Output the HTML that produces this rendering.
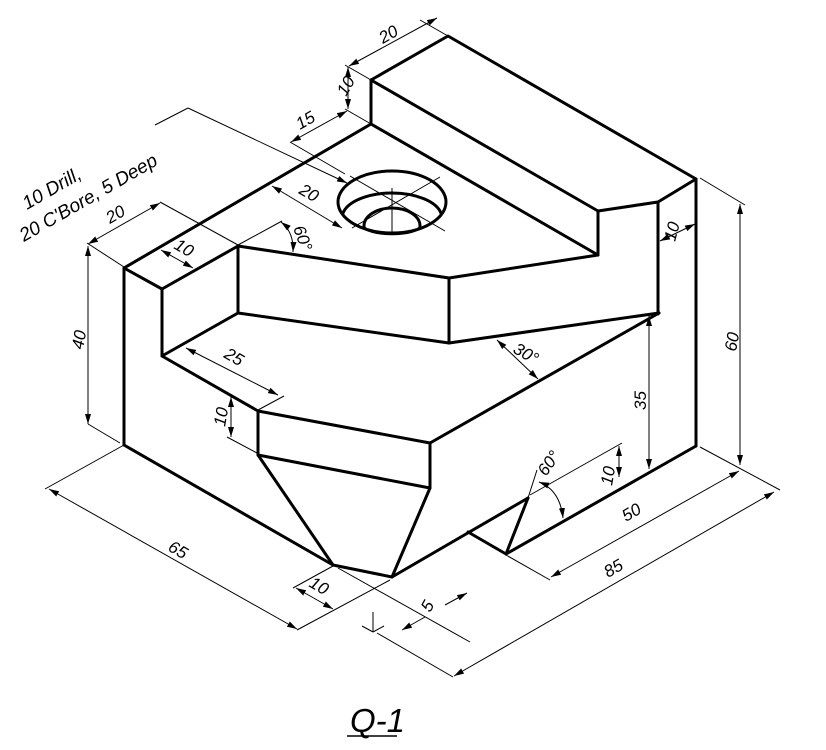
<!DOCTYPE html>
<html><head><meta charset="utf-8"><style>
html,body{margin:0;padding:0;background:#fff;}
svg{display:block}
text{font-family:"Liberation Sans",sans-serif;font-style:italic;fill:#000}
</style></head><body>
<svg width="826" height="750" viewBox="0 0 826 750" xmlns="http://www.w3.org/2000/svg">
<defs>
<marker id="a" viewBox="0 0 10 6" refX="10" refY="3" markerWidth="10" markerHeight="6" orient="auto-start-reverse" markerUnits="userSpaceOnUse"><path d="M0,0 L10,3 L0,6 z" fill="#000"/></marker>
</defs>
<g stroke="#000" stroke-width="3" fill="none" stroke-linejoin="round" stroke-linecap="round">
<polyline points="371,124 371,80 448,36 696,179 658,202 598,211 371,80"/>
<line x1="598" y1="211" x2="598" y2="255"/>
<line x1="371" y1="124" x2="598" y2="255"/>
<line x1="598" y1="255" x2="449" y2="278"/>
<line x1="449" y1="278" x2="449" y2="343"/>
<line x1="449" y1="343" x2="659" y2="313"/>
<line x1="658" y1="202" x2="658" y2="314"/>
<line x1="696" y1="179" x2="696" y2="446"/>
<polyline points="371,124 124,268 162,289 238,246 449,278"/>
<line x1="124" y1="268" x2="124" y2="445"/>
<line x1="162" y1="289" x2="162" y2="356"/>
<line x1="238" y1="246" x2="238" y2="313"/>
<line x1="238" y1="313" x2="449" y2="343"/>
<polyline points="238,313 162,356 258,411 430,443 659,313"/>
<line x1="258" y1="411" x2="258" y2="455"/>
<line x1="258" y1="455" x2="430" y2="488"/>
<line x1="430" y1="443" x2="430" y2="488"/>
<polyline points="124,445 333,565 392,577 430,488"/>
<line x1="258" y1="455" x2="333" y2="565"/>
<line x1="392" y1="577" x2="528" y2="498"/>
<polyline points="468,532 506,554 528,498"/>
<line x1="506" y1="554" x2="696" y2="446"/>
<ellipse cx="392" cy="202" rx="54" ry="31"/>
<path d="M343,213 A50,25 0 0 1 441,213"/>
<path d="M364,226 A28,18 0 0 1 420,226"/>
<path d="M364,226 A28,8 0 0 0 420,226" stroke-width="2.5"/>
</g>
<g stroke="#000" stroke-width="1" fill="none">
<line x1="350" y1="176" x2="445" y2="231"/>
<line x1="352" y1="228" x2="440" y2="177"/>
<line x1="392" y1="188" x2="392" y2="232"/>
<line x1="371" y1="80" x2="345" y2="65"/>
<line x1="448" y1="36" x2="420" y2="20"/>
<line x1="371" y1="124" x2="345" y2="109"/>
<line x1="290" y1="142" x2="345" y2="174"/>
<line x1="155" y1="125" x2="188" y2="108"/>
<line x1="160" y1="202" x2="238" y2="245"/>
<line x1="87" y1="243" x2="124" y2="267"/>
<line x1="238" y1="245" x2="282" y2="221"/>
<line x1="88" y1="424" x2="120" y2="443"/>
<line x1="258" y1="410" x2="284" y2="396"/>
<line x1="227" y1="437" x2="257" y2="453"/>
<line x1="45" y1="489" x2="124" y2="445"/>
<line x1="297" y1="630" x2="390" y2="580"/>
<line x1="293" y1="588" x2="333" y2="566"/>
<line x1="338" y1="568" x2="470" y2="642"/>
<line x1="377" y1="633" x2="453" y2="677"/>
<line x1="700" y1="447" x2="780" y2="490"/>
<line x1="506" y1="555" x2="550" y2="580"/>
<line x1="700" y1="178" x2="745" y2="205"/>
<line x1="530" y1="495" x2="622" y2="443"/>
<line x1="528" y1="498" x2="537" y2="470"/>
<line x1="373" y1="612" x2="373" y2="632"/>
<line x1="362" y1="626" x2="373" y2="632"/>
<line x1="384" y1="626" x2="373" y2="632"/>
<g marker-start="url(#a)" marker-end="url(#a)">
<line x1="349" y1="66" x2="437" y2="18"/>
<line x1="348" y1="67" x2="348" y2="109"/>
<line x1="291" y1="142" x2="347" y2="111"/>
<line x1="272" y1="186" x2="342" y2="228"/>
<line x1="88" y1="244" x2="160" y2="203"/>
<line x1="161" y1="250" x2="193" y2="268"/>
<line x1="88" y1="246" x2="88" y2="424"/>
<line x1="186" y1="348" x2="278" y2="395"/>
<line x1="231" y1="397" x2="231" y2="437"/>
<line x1="49" y1="489" x2="297" y2="629"/>
<line x1="296" y1="588" x2="333" y2="609"/>
<line x1="454" y1="676" x2="774" y2="492"/>
<line x1="551" y1="577" x2="739" y2="471"/>
<line x1="649" y1="316" x2="649" y2="469"/>
<line x1="740" y1="204" x2="740" y2="465"/>
<line x1="660" y1="241" x2="695" y2="224"/>
<line x1="619" y1="446" x2="619" y2="477"/>
<line x1="497" y1="340" x2="538" y2="379"/>
</g>
<polyline points="188,108 347,183" marker-end="url(#a)"/>
<line x1="402" y1="630" x2="425" y2="617" marker-start="url(#a)"/>
<line x1="467" y1="593" x2="445" y2="605" marker-start="url(#a)"/>
<path d="M281,222 Q294,232 293,252" marker-start="url(#a)" marker-end="url(#a)"/>
<path d="M539,482 Q560,490 563,518" marker-start="url(#a)" marker-end="url(#a)"/>
</g>
<g font-size="17">
<text transform="translate(383,44) rotate(-30)">20</text>
<text transform="translate(346,97) rotate(-60)">10</text>
<text transform="translate(300,130) rotate(-30)">15</text>
<text transform="translate(298,193) rotate(30)">20</text>
<text transform="translate(110,224) rotate(-30)">20</text>
<text transform="translate(173,248) rotate(30)">10</text>
<text transform="translate(293,228) rotate(70)">60°</text>
<text transform="translate(83,350) rotate(-80)">40</text>
<text transform="translate(223,357) rotate(30)">25</text>
<text transform="translate(225,427) rotate(-80)">10</text>
<text transform="translate(167,550) rotate(30)">65</text>
<text transform="translate(308,586) rotate(30)">10</text>
<text transform="translate(430,613) rotate(-60)">5</text>
<text transform="translate(608,578) rotate(-30)">85</text>
<text transform="translate(626,522) rotate(-30)">50</text>
<text transform="translate(646,410) rotate(-90)">35</text>
<text transform="translate(736,352) rotate(-80)">60</text>
<text transform="translate(675,242) rotate(-75)">10</text>
<text transform="translate(612,486) rotate(-80)">10</text>
<text transform="translate(546,477) rotate(-55)">60°</text>
<text transform="translate(512,352) rotate(30)">30°</text>
</g>
<g font-size="19">
<text transform="translate(27,210) rotate(-30)">10 Drill,</text>
<text transform="translate(24,242) rotate(-30)">20 C'Bore, 5 Deep</text>
</g>
<text x="350" y="732" font-size="33">Q-1</text>
<line x1="347" y1="736" x2="397" y2="736" stroke="#000" stroke-width="1.5"/>
</svg>
</body></html>
